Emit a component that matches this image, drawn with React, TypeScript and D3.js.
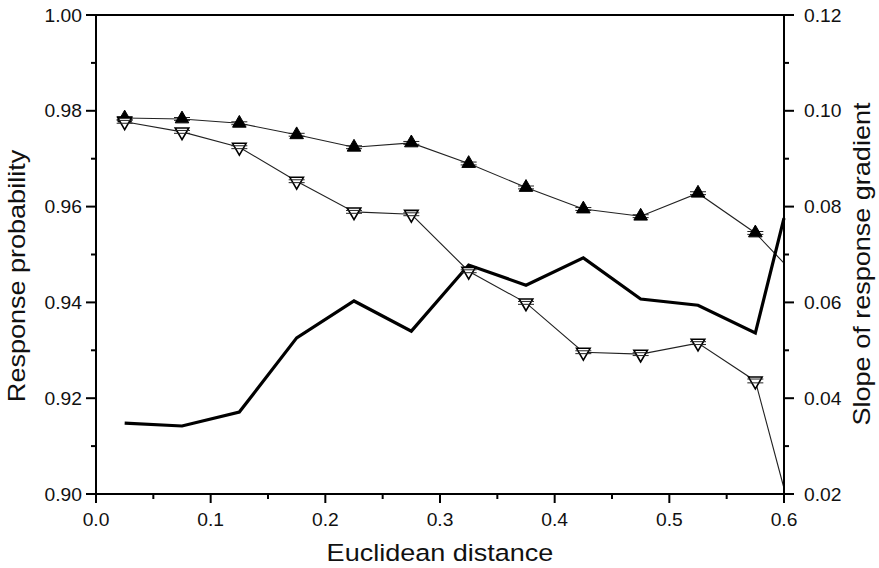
import React from "react";
import * as d3 from "d3";

const distances = [0.025, 0.075, 0.125, 0.175, 0.225, 0.275, 0.325, 0.375, 0.425, 0.475, 0.525, 0.575];
const filledProb = [0.9785, 0.9783, 0.9774, 0.975, 0.9724, 0.9733, 0.969, 0.964, 0.9595, 0.958, 0.9628, 0.9545];
const filledEnd = 0.9482;
const openProb = [0.9777, 0.9756, 0.9724, 0.9653, 0.9589, 0.9584, 0.9465, 0.9399, 0.9296, 0.9292, 0.9315, 0.9236];
const openEnd = 0.9012;
const slopeX = [0.025, 0.075, 0.125, 0.175, 0.225, 0.275, 0.325, 0.375, 0.425, 0.475, 0.525, 0.575, 0.6];
const slopeVals = [0.0348, 0.0342, 0.0371, 0.0526, 0.0603, 0.054, 0.0678, 0.0636, 0.0693, 0.0607, 0.0594, 0.0536, 0.0776];
const errFilled = [0.0003, 0.0003, 0.0003, 0.0003, 0.0003, 0.0003, 0.0003, 0.0003, 0.0003, 0.0003, 0.0003, 0.0003];
const errOpen = [0.0003, 0.0003, 0.0003, 0.0003, 0.0003, 0.0003, 0.0003, 0.0003, 0.0003, 0.0003, 0.0003, 0.0004];

const xTicks = [0, 0.1, 0.2, 0.3, 0.4, 0.5, 0.6];
const xMinor = [0.05, 0.15, 0.25, 0.35, 0.45, 0.55];
const yLeftTicks = [0.9, 0.92, 0.94, 0.96, 0.98, 1.0];
const yLeftMinor = [0.91, 0.93, 0.95, 0.97, 0.99];
const yRightTicks = [0.02, 0.04, 0.06, 0.08, 0.1, 0.12];
const yRightMinor = [0.03, 0.05, 0.07, 0.09, 0.11];

const W = 879, H = 568;
const L = 96, R = 784, T = 15, B = 494;
const font = "'Liberation Sans', Arial, Helvetica, sans-serif";
const TICK_FS = 17.5;
const TICK_SX = 1.1;
const TITLE_FS = 23.5;
const TITLE_SX = 1.15;

export default function App() {
  const x = d3.scaleLinear().domain([0, 0.6]).range([L, R]);
  const yL = d3.scaleLinear().domain([0.9, 1.0]).range([B, T]);
  const yR = d3.scaleLinear().domain([0.02, 0.12]).range([B, T]);

  const lineL = d3.line<[number, number]>().x(d => x(d[0])).y(d => yL(d[1]));
  const lineR = d3.line<[number, number]>().x(d => x(d[0])).y(d => yR(d[1]));

  const filledPts: [number, number][] = distances.map((d, i) => [d, filledProb[i]]);
  filledPts.push([0.6, filledEnd]);
  const openPts: [number, number][] = distances.map((d, i) => [d, openProb[i]]);
  openPts.push([0.6, openEnd]);
  const slopePts: [number, number][] = slopeX.map((d, i) => [d, slopeVals[i]]);

  const tri = d3.symbol().type(d3.symbolTriangle).size(80)();

  return (
    <svg width={W} height={H} style={{ position: "absolute", left: 0, top: 0, background: "#fff" }} fontFamily={font}>
      <rect x={0} y={0} width={W} height={H} fill="#fff" />
      {/* data lines */}
      <path d={lineL(filledPts) || ""} fill="none" stroke="#222" strokeWidth={1.1} />
      <path d={lineL(openPts) || ""} fill="none" stroke="#222" strokeWidth={1.1} />
      <path d={lineR(slopePts) || ""} fill="none" stroke="#000" strokeWidth={3.2} strokeLinejoin="miter" />
      {/* filled markers */}
      {distances.map((d, i) => (
        <g key={"f" + i}>
          <line x1={x(d) - 8} x2={x(d) + 8} y1={yL(filledProb[i] + errFilled[i])} y2={yL(filledProb[i] + errFilled[i])} stroke="#222" strokeWidth={1} />
          <line x1={x(d) - 8} x2={x(d) + 8} y1={yL(filledProb[i] - errFilled[i])} y2={yL(filledProb[i] - errFilled[i])} stroke="#222" strokeWidth={1} />
          <path d={tri || ""} transform={`translate(${x(d)},${yL(filledProb[i])})`} fill="#000" stroke="#000" strokeWidth={1} />
        </g>
      ))}
      {/* open markers */}
      {distances.map((d, i) => (
        <g key={"o" + i}>
          <path d={tri || ""} transform={`translate(${x(d)},${yL(openProb[i])}) rotate(180)`} fill="#fff" stroke="#000" strokeWidth={1.6} />
          <line x1={x(d) - 8} x2={x(d) + 8} y1={yL(openProb[i] + errOpen[i])} y2={yL(openProb[i] + errOpen[i])} stroke="#222" strokeWidth={1} />
          <line x1={x(d) - 8} x2={x(d) + 8} y1={yL(openProb[i] - errOpen[i])} y2={yL(openProb[i] - errOpen[i])} stroke="#222" strokeWidth={1} />
        </g>
      ))}
      {/* frame */}
      <line x1={L} x2={R} y1={T} y2={T} stroke="#000" strokeWidth={2} />
      <line x1={L} x2={R} y1={B} y2={B} stroke="#000" strokeWidth={2} />
      <line x1={L} x2={L} y1={T} y2={B} stroke="#000" strokeWidth={2} />
      <line x1={R} x2={R} y1={T} y2={B} stroke="#000" strokeWidth={2} />
      {/* x ticks */}
      {xTicks.map(t => (
        <g key={"xt" + t}>
          <line x1={x(t)} x2={x(t)} y1={B} y2={B + 9} stroke="#000" strokeWidth={2} />
          <text transform={`translate(${x(t)},526) scale(${TICK_SX},1)`} textAnchor="middle" fontSize={TICK_FS} fill="#111">{t.toFixed(1)}</text>
        </g>
      ))}
      {xMinor.map(t => (
        <line key={"xm" + t} x1={x(t)} x2={x(t)} y1={B} y2={B + 5} stroke="#000" strokeWidth={2} />
      ))}
      {/* left ticks */}
      {yLeftTicks.map(t => (
        <g key={"yl" + t}>
          <line x1={L - 10} x2={L} y1={yL(t)} y2={yL(t)} stroke="#000" strokeWidth={2} />
          <text transform={`translate(82,${yL(t) + 6.5}) scale(${TICK_SX},1)`} textAnchor="end" fontSize={TICK_FS} fill="#111">{t.toFixed(2)}</text>
        </g>
      ))}
      {yLeftMinor.map(t => (
        <line key={"ylm" + t} x1={L - 5} x2={L} y1={yL(t)} y2={yL(t)} stroke="#000" strokeWidth={2} />
      ))}
      {/* right ticks */}
      {yRightTicks.map(t => (
        <g key={"yr" + t}>
          <line x1={R} x2={R + 10} y1={yR(t)} y2={yR(t)} stroke="#000" strokeWidth={2} />
          <text transform={`translate(804,${yR(t) + 6.5}) scale(${TICK_SX},1)`} textAnchor="start" fontSize={TICK_FS} fill="#111">{t.toFixed(2)}</text>
        </g>
      ))}
      {yRightMinor.map(t => (
        <line key={"yrm" + t} x1={R} x2={R + 5} y1={yR(t)} y2={yR(t)} stroke="#000" strokeWidth={2} />
      ))}
      {/* titles */}
      <text transform={`translate(440,561) scale(${TITLE_SX},1)`} textAnchor="middle" fontSize={TITLE_FS} fill="#111">Euclidean distance</text>
      <text transform={`translate(25,276) rotate(-90) scale(${TITLE_SX},1)`} textAnchor="middle" fontSize={TITLE_FS} fill="#111">Response probability</text>
      <text transform={`translate(870,264) rotate(-90) scale(${TITLE_SX},1)`} textAnchor="middle" fontSize={TITLE_FS} fill="#111">Slope of response gradient</text>
    </svg>
  );
}
